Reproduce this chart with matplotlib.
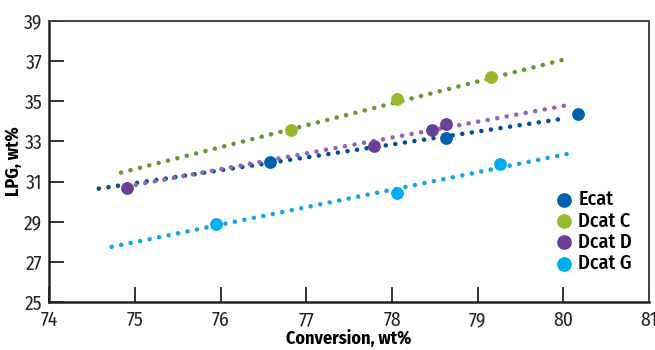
import matplotlib
matplotlib.use("Agg")
import matplotlib.pyplot as plt

plt.rcParams['font.family'] = ['Fira Sans Condensed', 'Open Sans', 'DejaVu Sans']
plt.rcParams['font.stretch'] = 'condensed'

# measured points
ecat_x = [76.58, 78.63, 80.17]
ecat_y = [32.0, 33.15, 34.35]
dcatc_x = [76.82, 78.06, 79.16]
dcatc_y = [33.55, 35.1, 36.2]
dcatd_x = [74.91, 77.79, 78.47, 78.63]
dcatd_y = [30.7, 32.75, 33.55, 33.85]
dcatg_x = [75.95, 78.06, 79.26]
dcatg_y = [28.9, 30.45, 31.9]

# trend line end points
ecat_tx = [74.58, 80.02]
ecat_ty = [30.65, 34.15]
dcatc_tx = [74.84, 80.07]
dcatc_ty = [31.45, 37.15]
dcatd_tx = [74.9, 80.04]
dcatd_ty = [30.75, 34.8]
dcatg_tx = [74.73, 80.13]
dcatg_ty = [27.75, 32.45]

labels = ['Ecat', 'Dcat C', 'Dcat D', 'Dcat G']
marker_colors = ['#0061ad', '#9ab92a', '#6c3f97', '#00adee']
line_colors = ['#004f9a', '#6a9438', '#8c69b5', '#16a5e3']

fig = plt.figure(figsize=(6.55, 3.5), dpi=100)
ax = fig.add_axes([0.075, 0.137, 0.916, 0.803])

series = [
    (ecat_x, ecat_y, ecat_tx, ecat_ty),
    (dcatc_x, dcatc_y, dcatc_tx, dcatc_ty),
    (dcatd_x, dcatd_y, dcatd_tx, dcatd_ty),
    (dcatg_x, dcatg_y, dcatg_tx, dcatg_ty),
]

for (x, y, tx, ty), lab, mc, lc in zip(series, labels, marker_colors, line_colors):
    ax.plot(tx, ty, color=lc, lw=3.3, linestyle=(0, (0.01, 2.1)),
            dash_capstyle='round', zorder=2)
    ax.scatter(x, y, s=85, color=mc, label=lab, zorder=3, linewidths=0)

ax.set_xlim(74, 81)
ax.set_ylim(25, 39)
ax.set_xticks(range(74, 82))
ax.set_yticks(range(25, 40, 2))
ax.tick_params(direction='in', length=11, width=1.3, labelsize=14, colors='#222222')
ax.tick_params(axis='x', pad=6)
ax.tick_params(axis='y', pad=5)

for s in ['left', 'bottom']:
    ax.spines[s].set_linewidth(1.8)
    ax.spines[s].set_color('#222222')
for s in ['top', 'right']:
    ax.spines[s].set_linewidth(1.4)
    ax.spines[s].set_color('#444444')

ax.set_xlabel('Conversion, wt%', fontsize=13, fontweight='bold', labelpad=0)
ax.set_ylabel('LPG, wt%', fontsize=13, fontweight='bold', labelpad=1)

leg = ax.legend(loc='lower right', bbox_to_anchor=(0.985, 0.075), frameon=False,
                prop={'size': 14.5, 'weight': 'medium'}, handletextpad=-0.3,
                labelspacing=0.08, borderaxespad=0, markerscale=1.15)

fig.savefig('out.png', dpi=100)
